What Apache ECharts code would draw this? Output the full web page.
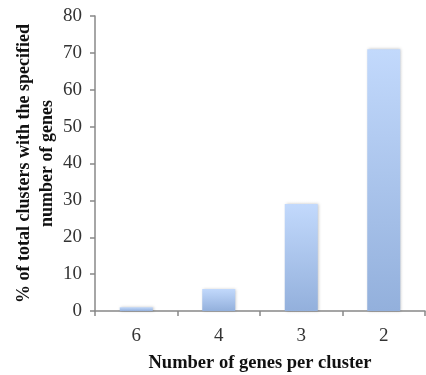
<!DOCTYPE html>
<html>
<head>
<meta charset="utf-8">
<script src="https://cdn.jsdelivr.net/npm/echarts@6/dist/echarts.min.js"></script>
<style>
  html, body { margin: 0; padding: 0; background: #fff; }
  #chart { width: 426px; height: 375px; }
</style>
</head>
<body>
<div id="chart"></div>
<script>
// genes per cluster, as ordered on the x axis
const categories = ['6', '4', '3', '2'];
// % of total clusters
const values = [1, 6, 29, 71];

const chart = echarts.init(document.getElementById('chart'));
const font = '"Liberation Serif", "Times New Roman", serif';

chart.setOption({
  backgroundColor: '#fff',
  animation: false,
  grid: { left: 95, right: 1, top: 16, bottom: 64, outerBoundsMode: 'none', containLabel: false },
  xAxis: {
    type: 'category',
    data: categories,
    name: 'Number of genes per cluster',
    nameLocation: 'middle',
    nameGap: 43,
    nameTextStyle: { fontFamily: font, fontWeight: 'bold', fontSize: 18.5, color: '#111' },
    axisLine: { lineStyle: { color: '#888', width: 1.5 } },
    axisTick: { show: true, length: 5, alignWithLabel: false, lineStyle: { color: '#888', width: 1.5 } },
    axisLabel: { fontFamily: font, fontSize: 19, color: '#333', margin: 16 }
  },
  yAxis: {
    type: 'value',
    min: 0,
    max: 80,
    interval: 10,
    name: '% of total clusters with the specified\nnumber of genes',
    nameLocation: 'middle',
    nameMoveOverlap: false,
    nameGap: 36,
    nameTextStyle: { fontFamily: font, fontWeight: 'bold', fontSize: 18, color: '#111', lineHeight: 23 },
    axisLine: { show: true, lineStyle: { color: '#888', width: 1.5 } },
    axisTick: { show: true, length: 5, lineStyle: { color: '#888', width: 1.5 } },
    axisLabel: { fontFamily: font, fontSize: 19, color: '#333', margin: 13 },
    splitLine: { show: false }
  },
  series: [{
    type: 'bar',
    data: values,
    barWidth: '40%',
    itemStyle: {
      color: new echarts.graphic.LinearGradient(0, 0, 0, 1, [
        { offset: 0, color: '#c2d9fc' },
        { offset: 1, color: '#93b0dc' }
      ]),
      shadowColor: 'rgba(0,0,0,0.25)',
      shadowBlur: 3,
      shadowOffsetX: 1
    }
  }]
});
</script>
</body>
</html>
